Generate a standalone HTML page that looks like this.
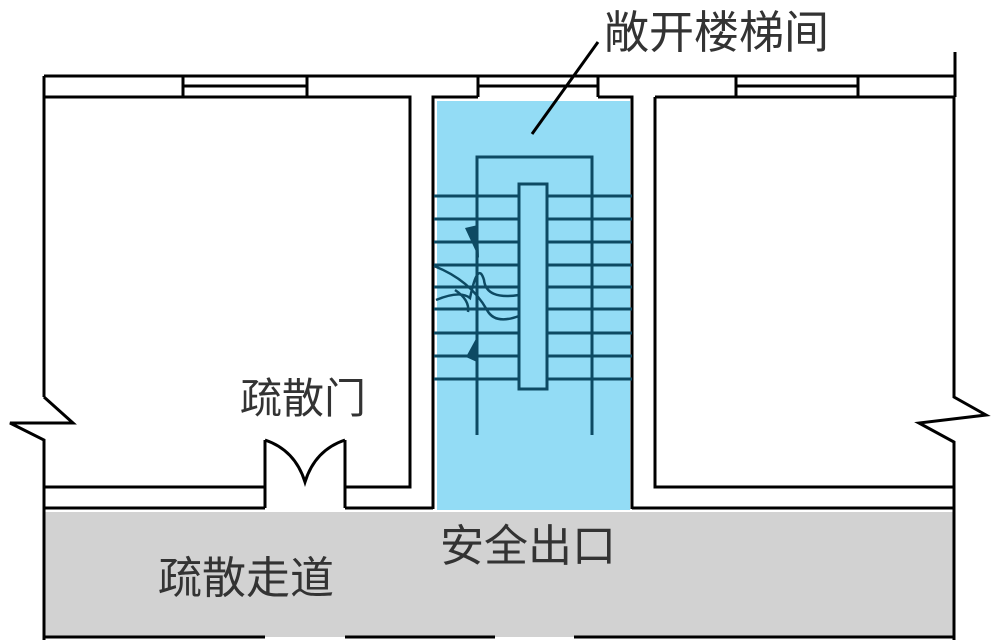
<!DOCTYPE html>
<html><head><meta charset="utf-8"><style>
html,body{margin:0;padding:0;background:#fff;}
svg{display:block;}
text{font-family:"Liberation Sans","Noto Sans CJK SC",sans-serif;fill:#333;}
</style></head><body>
<svg width="1000" height="642" viewBox="0 0 1000 642" xmlns="http://www.w3.org/2000/svg">
<rect x="0" y="0" width="1000" height="642" fill="#fff"/>
<rect x="45" y="512" width="909" height="125" fill="#d2d2d2"/>
<rect x="437" y="101" width="193" height="409" fill="#93dcf5"/>
<g fill="none" stroke="#000" stroke-width="3">
  <line x1="44" y1="76" x2="955" y2="76"/>
  <line x1="955" y1="52" x2="955" y2="97"/>
  <line x1="44" y1="76" x2="44" y2="397"/>
  <polyline points="44,397 73,423 10,423 44,440 44,640"/>
  <line x1="183" y1="76" x2="183" y2="97"/><line x1="307" y1="76" x2="307" y2="97"/><line x1="183" y1="86" x2="307" y2="86"/>
  <line x1="478" y1="76" x2="478" y2="97"/><line x1="598" y1="76" x2="598" y2="97"/><line x1="478" y1="86" x2="598" y2="86"/>
  <line x1="736" y1="76" x2="736" y2="97"/><line x1="858" y1="76" x2="858" y2="97"/><line x1="736" y1="86" x2="858" y2="86"/>
  <polyline points="44,97 410,97 410,487 345,487"/>
  <line x1="44" y1="487" x2="265" y2="487"/>
  <polyline points="433,509 433,97 478,97"/>
  <polyline points="598,97 632,97 632,509"/>
  <polyline points="655,97 954,97"/>
  <polyline points="655,97 655,487 954,487"/>
  <polyline points="954,97 954,397 986,415 919,423 954,442 954,640"/>
  <line x1="44" y1="508" x2="265" y2="508"/>
  <line x1="345" y1="508" x2="433" y2="508"/>
  <line x1="632" y1="508" x2="954" y2="508"/>
  <line x1="265" y1="440" x2="265" y2="508"/>
  <line x1="345" y1="440" x2="345" y2="508"/>
  <path d="M265,440 Q295,450 305,482 Q315,450 345,440"/>
  <line x1="44" y1="637" x2="265" y2="637"/>
  <line x1="345" y1="637" x2="495" y2="637"/>
  <line x1="574" y1="637" x2="954" y2="637"/>
</g>
<g fill="none" stroke="#0d4a63" stroke-width="3">
  <polyline points="477,435 477,157 592,157 592,435"/>
  <rect x="519" y="184" width="28" height="205" fill="#93dcf5"/>
  <g>
    <line x1="434" y1="196" x2="519" y2="196"/><line x1="547" y1="196" x2="632" y2="196"/>
    <line x1="434" y1="219" x2="519" y2="219"/><line x1="547" y1="219" x2="632" y2="219"/>
    <line x1="434" y1="242" x2="519" y2="242"/><line x1="547" y1="242" x2="632" y2="242"/>
    <line x1="434" y1="265" x2="519" y2="265"/><line x1="547" y1="265" x2="632" y2="265"/>
    <line x1="434" y1="287" x2="519" y2="287"/><line x1="547" y1="287" x2="632" y2="287"/>
    <line x1="434" y1="309" x2="519" y2="309"/><line x1="547" y1="309" x2="632" y2="309"/>
    <line x1="434" y1="333" x2="519" y2="333"/><line x1="547" y1="333" x2="632" y2="333"/>
    <line x1="434" y1="356" x2="519" y2="356"/><line x1="547" y1="356" x2="632" y2="356"/>
    <line x1="434" y1="379" x2="519" y2="379"/><line x1="547" y1="379" x2="632" y2="379"/>
  </g>
  <path d="M434,266 Q470,280 487,310 Q495,325 519,316" stroke-width="2.5"/>
  <path d="M436,300 Q460,290 470,298 Q478,260 484,280 Q486,300 519,295" stroke-width="2.5"/>
  <path d="M455,290 Q470,300 468,312" stroke-width="2.5"/>
</g>
<path d="M465,228 L478,225 L479,258 Z" fill="#0d4a63"/>
<path d="M478,335 L477,362 L466,357 Z" fill="#0d4a63"/>
<line x1="598" y1="42" x2="532" y2="134" stroke="#000" stroke-width="3"/>
<text x="604" y="48" font-size="45">敞开楼梯间</text>
<text x="240" y="413" font-size="42">疏散门</text>
<text x="440" y="561" font-size="44">安全出口</text>
<text x="158" y="593" font-size="44">疏散走道</text>
</svg>
</body></html>
